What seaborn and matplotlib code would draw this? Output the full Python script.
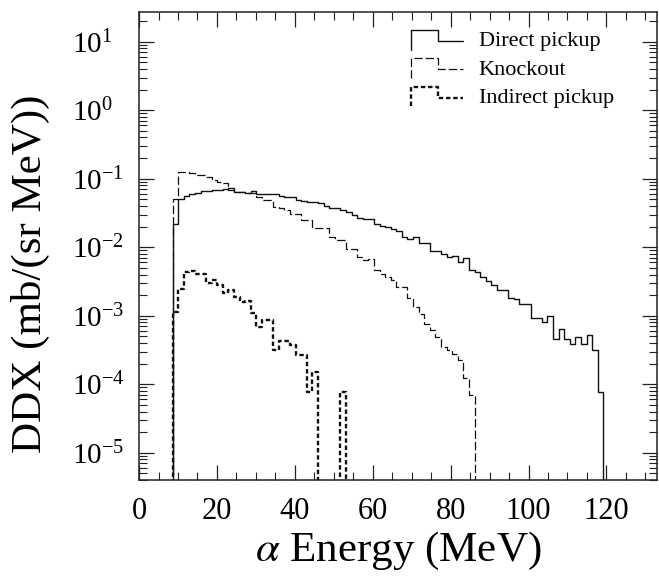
import numpy as np
import pandas as pd
import matplotlib
matplotlib.use("Agg")
import matplotlib.pyplot as plt
import seaborn as sns
from matplotlib.lines import Line2D
from matplotlib.legend_handler import HandlerBase
from matplotlib.ticker import MultipleLocator

# histogram bins (MeV)
BIN_START = 8.6
BIN_WIDTH = 1.4364

# DDX per bin, mb/(sr MeV)
direct_pickup = [0.0217, 0.0514, 0.0556, 0.0594, 0.0621, 0.0668, 0.0664, 0.0680, 0.0695, 0.0710,
                 0.0734, 0.0641, 0.0641, 0.0621, 0.0664, 0.0608, 0.0594, 0.0594, 0.0604, 0.0556,
                 0.0546, 0.0532, 0.0497, 0.0470, 0.0454, 0.0454, 0.0435, 0.0401, 0.0375, 0.0375,
                 0.0347, 0.0328, 0.0293, 0.0271, 0.0254, 0.0254, 0.0222, 0.0207, 0.0198, 0.0183,
                 0.0174, 0.0141, 0.0134, 0.0141, 0.0116, 0.0116, 0.00883, 0.00883, 0.00809, 0.00722,
                 0.00739, 0.00610, 0.00698, 0.00472, 0.00436, 0.00368, 0.00322, 0.00279, 0.00236, 0.00236,
                 0.00184, 0.00178, 0.00147, 0.00147, 0.000929, 0.000929, 0.000811, 0.000993, 0.000465, 0.000635,
                 0.000454, 0.000384, 0.000491, 0.000384, 0.000532, 0.000314, 7.7e-5]

knockout = [0.0514, 0.1256, 0.1265, 0.1216, 0.1125, 0.1125, 0.1042, 0.0973, 0.0898, 0.0874,
            0.0680, 0.0641, 0.0641, 0.0621, 0.0621, 0.0537, 0.0497, 0.0497, 0.0388, 0.0375,
            0.0347, 0.0310, 0.0310, 0.0248, 0.0248, 0.0188, 0.0188, 0.0193, 0.0141, 0.0126,
            0.0126, 0.00957, 0.00957, 0.00722, 0.00646, 0.00684, 0.00462, 0.00413, 0.00368, 0.00330,
            0.00263, 0.00263, 0.00184, 0.00132, 0.00105, 0.000769, 0.000629, 0.000491, 0.000351, 0.000321,
            0.000274, 0.000224, 0.000122, 6.9e-5]

indirect_pickup = [0.00114, 0.00249, 0.00436, 0.00451, 0.00403, 0.00403, 0.00305, 0.00330, 0.00285, 0.00215,
                   0.00236, 0.00188, 0.00159, 0.00163, 0.00108, 0.000686, 0.000859, 0.000859, 0.000314, 0.000429,
                   0.000429, 0.000371, 0.000265, 0.000265, 7.7e-5, 0.000151, 0, 0, 0, 0,
                   7.7e-5]

series_names = ["Direct pickup", "Knockout", "Indirect pickup"]
y_ticks = [1e-5, 1e-4, 1e-3, 1e-2, 1e-1, 1e0, 1e1]

FLOOR = 1e-9


def step_frame(values, name):
    v = np.asarray(values, dtype=float)
    edges = BIN_START + BIN_WIDTH * np.arange(len(v) + 1)
    v = np.where(v > 0, v, FLOOR)
    x = np.concatenate([[edges[0]], edges])
    y = np.concatenate([[FLOOR], v, [FLOOR]])
    return pd.DataFrame({"E": x, "DDX": y, "process": name})


class StepHandler(HandlerBase):
    # little step glyph like the one in the original legend
    def create_artists(self, legend, orig_handle, xdescent, ydescent,
                       width, height, fontsize, trans):
        xs = np.array([0, 0, 0.52, 0.52, 1.0]) * width - xdescent
        ys = np.array([-0.2, 1.05, 1.05, 0.35, 0.35]) * height - ydescent
        line = Line2D(xs, ys)
        self.update_prop(line, orig_handle, legend)
        line.set_transform(trans)
        return [line]


sns.set_theme(style="ticks")
plt.rcParams["font.family"] = ["Liberation Serif", "DejaVu Serif"]
plt.rcParams["mathtext.fontset"] = "stix"
plt.rcParams["lines.scale_dashes"] = False
plt.rcParams["text.color"] = "black"
plt.rcParams["axes.labelcolor"] = "black"
plt.rcParams["xtick.labelcolor"] = "black"
plt.rcParams["ytick.labelcolor"] = "black"

styles = {
    "Direct pickup": dict(lw=1.0, linestyle="-"),
    "Knockout": dict(lw=0.9, linestyle=(0, (6.0, 2.2))),
    "Indirect pickup": dict(lw=1.7, linestyle=(0, (3.2, 2.0))),
}

fig = plt.figure(figsize=(6.59, 5.77), dpi=100)
ax = fig.add_axes([0.211, 0.168, 0.786, 0.811])

for vals, name in zip([direct_pickup, knockout, indirect_pickup], series_names):
    df = step_frame(vals, name)
    sns.lineplot(data=df, x="E", y="DDX", ax=ax, estimator=None, sort=False,
                 drawstyle="steps-post", color="#111111", legend=False, **styles[name])

ax.set_yscale("log")
ax.set_xlim(0, 133)
ax.set_ylim(4e-6, 27)
ax.set_yticks(y_ticks)
ax.xaxis.set_major_locator(MultipleLocator(20))
ax.xaxis.set_minor_locator(MultipleLocator(5))

ax.tick_params(which="both", direction="in", top=True, right=True, color="#222222")
ax.tick_params(which="major", length=11, width=0.9)
ax.tick_params(which="minor", length=6, width=0.8)
ax.tick_params(axis="x", which="major", labelsize=22, pad=12)
ax.tick_params(axis="y", which="major", labelsize=21, pad=48)
for lab in ax.get_yticklabels():
    lab.set_horizontalalignment("left")
for sp in ax.spines.values():
    sp.set_linewidth(1.1)
    sp.set_color("#222222")

ax.set_xlabel(r"$\alpha$ Energy (MeV)", fontsize=31, labelpad=3)
ax.set_ylabel("DDX (mb/(sr MeV))", fontsize=31)
ax.yaxis.set_label_coords(-0.172, 0.44)

handles = [Line2D([], [], color="#111111", **styles[n]) for n in series_names]
ax.legend(handles, series_names, handler_map={Line2D: StepHandler()},
          loc="upper left", bbox_to_anchor=(0.525, 0.96), frameon=False,
          fontsize=16, handlelength=2.35, handletextpad=0.7, labelspacing=0.35,
          borderpad=0, borderaxespad=0)

fig.savefig("out.png", dpi=100)
